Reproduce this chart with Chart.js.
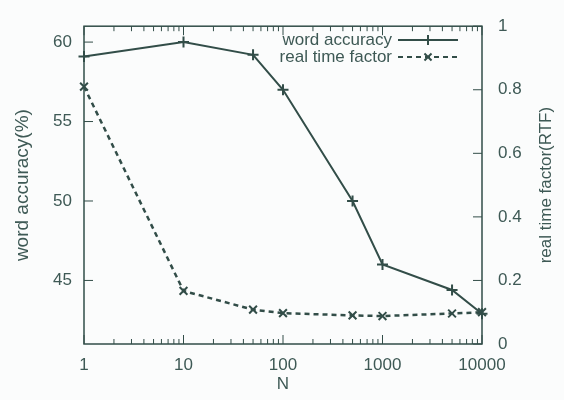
<!DOCTYPE html>
<html><head><meta charset="utf-8">
<script src="https://cdn.jsdelivr.net/npm/chart.js@4/dist/chart.umd.min.js"></script>
<style>html,body{margin:0;padding:0;background:#fbfcfc}#wrap{width:564px;height:400px}</style>
</head><body><div id="wrap"><canvas id="c" width="564" height="400"></canvas></div>
<script>
const nValues = [1, 10, 50, 100, 500, 1000, 5000, 10000];
const wordAccuracy = [59.1, 60.0, 59.2, 57.0, 50.0, 46.0, 44.4, 42.9];
const realTimeFactor = [0.81, 0.167, 0.108, 0.097, 0.09, 0.088, 0.096, 0.1];
const xTickLabels = [1, 10, 100, 1000, 10000];
const yTickLabels = [45, 50, 55, 60];
const y2TickLabels = [0, 0.2, 0.4, 0.6, 0.8, 1];

const INK = '#324d48';
const TEXT = '#3e5955';
const FAMILY = 'Liberation Sans, Arial, sans-serif';
const FONT = {family: FAMILY, size: 17};
const LTITLE = {family: FAMILY, size: 19};

const frame = {
  id: 'frame',
  afterDraw(chart) {
    const {ctx, chartArea: a, scales} = chart;
    ctx.save();
    ctx.strokeStyle = INK; ctx.lineWidth = 1.5;
    ctx.strokeRect(a.left, a.top, a.right - a.left, a.bottom - a.top);
    ctx.lineWidth = 1;
    ctx.beginPath();
    for (let d = 1; d <= 10000; d *= 10) {
      for (let m = 1; m <= 9; m++) {
        const v = d * m; if (v > 10000) break;
        const px = scales.x.getPixelForValue(v);
        const len = m === 1 ? 9 : 5;
        ctx.moveTo(px, a.bottom); ctx.lineTo(px, a.bottom - len);
        ctx.moveTo(px, a.top); ctx.lineTo(px, a.top + len);
      }
    }
    yTickLabels.forEach(v => { const py = scales.y.getPixelForValue(v); ctx.moveTo(a.left, py); ctx.lineTo(a.left + 9, py); });
    y2TickLabels.forEach(v => { const py = scales.y2.getPixelForValue(v); ctx.moveTo(a.right, py); ctx.lineTo(a.right - 9, py); });
    ctx.stroke();

    ctx.fillStyle = TEXT;
    ctx.font = FONT.size + 'px ' + FAMILY;
    ctx.textAlign = 'center'; ctx.textBaseline = 'middle';
    ctx.save();
    ctx.translate(546, (a.top + a.bottom) / 2);
    ctx.rotate(-Math.PI / 2);
    ctx.fillText('real time factor(RTF)', 0, 0);
    ctx.restore();

    const rows = [
      {label: chart.data.datasets[0].label, y: 40, dash: [], style: 'cross'},
      {label: chart.data.datasets[1].label, y: 57, dash: [5, 4], style: 'crossRot'}
    ];
    rows.forEach(r => {
      ctx.fillStyle = TEXT;
      ctx.textAlign = 'right';
      ctx.fillText(r.label, 392, r.y);
      ctx.strokeStyle = INK;
      ctx.lineWidth = 2;
      ctx.setLineDash(r.dash);
      ctx.beginPath(); ctx.moveTo(398, r.y); ctx.lineTo(458, r.y); ctx.stroke();
      ctx.setLineDash([]);
      Chart.helpers.drawPoint(ctx, {pointStyle: r.style, radius: 5, borderWidth: 2}, 428, r.y);
    });
    ctx.restore();
  }
};

new Chart(document.getElementById('c'), {
  type: 'line',
  data: {
    datasets: [
      {
        label: 'word accuracy', yAxisID: 'y', clip: false,
        data: nValues.map((n, i) => ({x: n, y: wordAccuracy[i]})),
        borderColor: INK, backgroundColor: INK, borderWidth: 2,
        pointStyle: 'cross', pointRadius: 5.5, pointBorderWidth: 2, tension: 0
      },
      {
        label: 'real time factor', yAxisID: 'y2', clip: false,
        data: nValues.map((n, i) => ({x: n, y: realTimeFactor[i]})),
        borderColor: INK, backgroundColor: INK, borderWidth: 2.5, borderDash: [5, 4],
        pointStyle: 'crossRot', pointRadius: 5.5, pointBorderWidth: 2, tension: 0
      }
    ]
  },
  options: {
    responsive: false, animation: false,
    layout: {padding: {top: 21, left: 0, right: 0, bottom: 0}},
    plugins: {legend: {display: false}, tooltip: {enabled: false}},
    scales: {
      x: {
        type: 'logarithmic', min: 1, max: 10000,
        grid: {display: false, drawTicks: false}, border: {display: false},
        afterBuildTicks: s => { s.ticks = xTickLabels.map(v => ({value: v})); },
        afterFit: s => { s.height = 56; },
        ticks: {color: TEXT, font: FONT, padding: 11, autoSkip: false, maxRotation: 0, callback: v => String(v)},
        title: {display: true, text: 'N', color: TEXT, font: FONT, padding: {top: 0, bottom: 5}}
      },
      y: {
        position: 'left', min: 41, max: 61,
        grid: {display: false, drawTicks: false}, border: {display: false},
        afterBuildTicks: s => { s.ticks = yTickLabels.map(v => ({value: v})); },
        afterFit: s => { s.width = 84; },
        ticks: {color: TEXT, font: FONT, padding: 12, callback: v => String(v)},
        title: {display: true, text: 'word accuracy(%)', color: TEXT, font: LTITLE, padding: {top: 11, bottom: 0}}
      },
      y2: {
        position: 'right', min: 0, max: 1,
        grid: {display: false, drawTicks: false}, border: {display: false},
        afterBuildTicks: s => { s.ticks = y2TickLabels.map(v => ({value: v})); },
        afterFit: s => { s.width = 82; },
        ticks: {color: TEXT, font: FONT, padding: 16, callback: v => String(v)}
      }
    }
  },
  plugins: [frame]
});
</script>
</body></html>
